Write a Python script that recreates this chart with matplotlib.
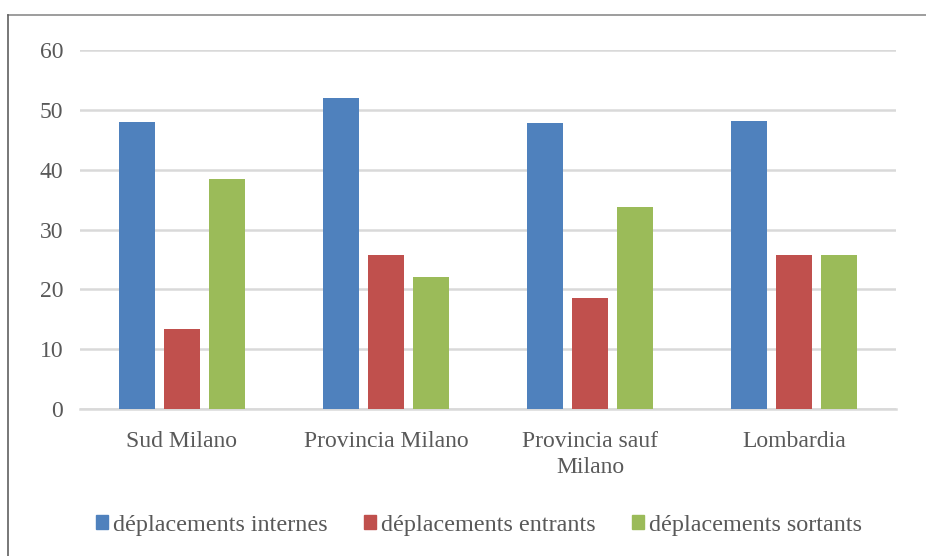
import matplotlib
matplotlib.use("Agg")
import matplotlib.pyplot as plt
import numpy as np
from matplotlib.lines import Line2D

categories = ["Sud Milano", "Provincia Milano", "Provincia sauf\nMilano", "Lombardia"]
series_names = ["déplacements internes", "déplacements entrants", "déplacements sortants"]
internes = [48.0, 52.0, 47.8, 48.2]
entrants = [13.4, 25.8, 18.6, 25.8]
sortants = [38.5, 22.0, 33.8, 25.8]
colors = ["#4F81BD", "#C0504D", "#9BBB59"]
yticks = [0, 10, 20, 30, 40, 50, 60]

plt.rcParams['font.family'] = ['Liberation Serif', 'DejaVu Serif']
txt = "#595959"

fig = plt.figure(figsize=(9.26, 5.56), dpi=100)
ax = fig.add_axes([80/926, 1-409/556, 816/926, 359/556])

x = np.arange(len(categories))
w = 0.176
off = 0.222
for i, (vals, c) in enumerate(zip([internes, entrants, sortants], colors)):
    ax.bar(x + (i-1)*off, vals, width=w, color=c, zorder=3, label=series_names[i])

ax.set_xlim(-0.5, len(categories)-0.5)
ax.set_ylim(0, 60)
ax.set_yticks(yticks)
ax.set_yticklabels([str(t) for t in yticks])
ax.yaxis.grid(True, color="#D9D9D9", linewidth=1.8, zorder=0)
ax.set_axisbelow(True)
for s in ["top", "right", "left"]:
    ax.spines[s].set_visible(False)
ax.spines["bottom"].set_color("#D9D9D9")
ax.spines["bottom"].set_linewidth(1.8)
ax.tick_params(axis="y", length=0, pad=12, labelsize=17, labelcolor=txt)
ax.tick_params(axis="x", length=0, pad=16, labelsize=17, labelcolor=txt)
ax.set_xticks(x)
ax.set_xticklabels(categories, linespacing=1.3)

handles = [plt.Rectangle((0, 0), 1, 1, color=c) for c in colors]
fig.legend(handles, series_names, loc="center", bbox_to_anchor=(479/926, 1-525/556), ncol=3,
           frameon=False, fontsize=17.4, labelcolor=txt, handlelength=0.5, handleheight=0.5,
           handletextpad=0.2, columnspacing=1.5)

# outer border (top and left visible)
fig.add_artist(Line2D([8/926, 1], [1-15/556, 1-15/556], transform=fig.transFigure, color="#8C8C8C", linewidth=1.2))
fig.add_artist(Line2D([8/926, 8/926], [0, 1-15/556], transform=fig.transFigure, color="#606060", linewidth=1.2))

fig.savefig("out.png", dpi=100)
